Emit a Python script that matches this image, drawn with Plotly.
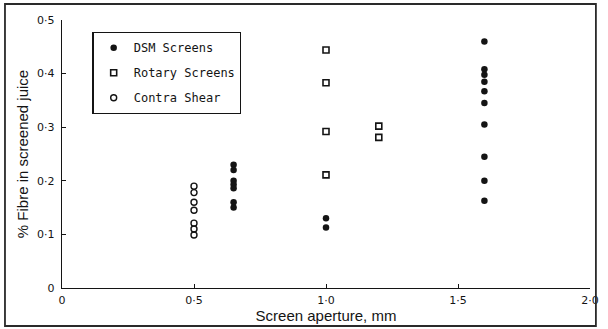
import plotly.graph_objects as go

# Data
dsm_x = [0.65] * 7 + [1.0] * 2 + [1.6] * 10
dsm_y = [0.23, 0.22, 0.20, 0.193, 0.186, 0.16, 0.15,
         0.13, 0.113,
         0.46, 0.408, 0.398, 0.385, 0.367, 0.345, 0.305, 0.245, 0.20, 0.163]

rotary_x = [1.0, 1.0, 1.0, 1.0, 1.2, 1.2]
rotary_y = [0.444, 0.383, 0.292, 0.211, 0.302, 0.281]

contra_x = [0.5] * 7
contra_y = [0.19, 0.178, 0.16, 0.145, 0.121, 0.11, 0.099]

x_ticks = [0, 0.5, 1.0, 1.5, 2.0]
x_ticktext = ["0", "0·5", "1·0", "1·5", "2·0"]
y_ticks = [0, 0.1, 0.2, 0.3, 0.4, 0.5]
y_ticktext = ["0", "0·1", "0·2", "0·3", "0·4", "0·5"]

ink = "#141414"

W, H = 608, 329
ML, MR, MT, MB = 62, 9, 20, 41
PW, PH = W - ML - MR, H - MT - MB


def px_x(p):
    return (p - ML) / PW


def px_y(p):
    return (H - MB - p) / PH


fig = go.Figure()
fig.add_trace(go.Scatter(
    x=dsm_x, y=dsm_y, mode="markers", name="DSM Screens", legendgroup="a",
    marker=dict(symbol="circle", size=6.5, color=ink, line=dict(width=0))))
fig.add_trace(go.Scatter(
    x=rotary_x, y=rotary_y, mode="markers", name="Rotary Screens", legendgroup="b",
    marker=dict(symbol="square-open", size=6, color=ink, line=dict(width=1.6, color=ink))))
fig.add_trace(go.Scatter(
    x=contra_x, y=contra_y, mode="markers", name="Contra Shear", legendgroup="c",
    marker=dict(symbol="circle-open", size=6, color=ink, line=dict(width=1.4, color=ink))))

fig.update_layout(
    width=W, height=H,
    margin=dict(l=ML, r=MR, t=MT, b=MB),
    paper_bgcolor="white", plot_bgcolor="white",
    font=dict(family="DejaVu Sans", color=ink, size=11),
    showlegend=True,
    legend=dict(
        x=px_x(93), y=px_y(32), xanchor="left", yanchor="top",
        bordercolor=ink, borderwidth=1.2, bgcolor="white",
        font=dict(family="DejaVu Sans Mono", size=12, color=ink),
        tracegroupgap=6, itemwidth=30, traceorder="grouped",
    ),
    xaxis=dict(
        range=[0, 2.0], tickvals=x_ticks, ticktext=x_ticktext,
        showline=True, linecolor=ink, linewidth=1.4, mirror=False,
        ticks="inside", ticklen=4, tickcolor=ink, tickwidth=1.2,
        ticklabelstandoff=2, ticklabeloverflow="allow",
        showgrid=False, zeroline=False,
        tickfont=dict(family="DejaVu Sans", size=11, color=ink),
        title=dict(text="Screen aperture, mm", standoff=0,
                   font=dict(family="Liberation Sans", size=15, color=ink)),
    ),
    yaxis=dict(
        range=[0, 0.5], tickvals=y_ticks, ticktext=y_ticktext,
        showline=True, linecolor=ink, linewidth=1.4, mirror=False,
        ticks="inside", ticklen=4, tickcolor=ink, tickwidth=1.2,
        ticklabelstandoff=4, ticklabeloverflow="allow",
        showgrid=False, zeroline=False,
        tickfont=dict(family="DejaVu Sans", size=11, color=ink),
        title=dict(text="% Fibre in screened juice", standoff=4,
                   font=dict(family="Liberation Sans", size=15, color=ink)),
    ),
    shapes=[dict(
        type="rect", xref="paper", yref="paper",
        x0=px_x(4), x1=px_x(605),
        y0=px_y(326), y1=px_y(4),
        line=dict(color="#2a2a2a", width=1.8), fillcolor="rgba(0,0,0,0)", layer="above",
    )],
)

fig.write_html(
    "out.html",
    config={"displayModeBar": False},
    post_script="document.body.style.margin='0';document.body.style.overflow='hidden';",
)
